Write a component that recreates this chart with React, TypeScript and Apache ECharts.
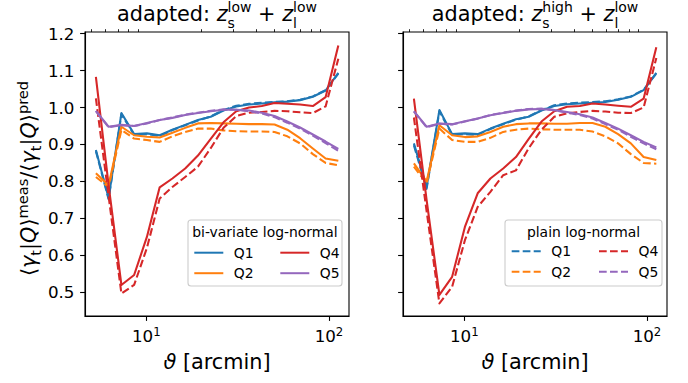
import React, { useEffect, useRef } from 'react';
import * as echarts from 'echarts';

// ---------- data ----------
const THETA = [5.30, 6.22, 7.31, 8.58, 10.08, 11.84, 13.90, 16.33, 19.18, 22.53, 26.46, 31.08, 36.51, 42.88, 50.36, 59.15, 69.47, 81.60, 95.84, 112.5];

const LEFT_Q1_BV = [0.885, 0.755, 0.985, 0.928, 0.930, 0.925, 0.940, 0.953, 0.966, 0.975, 0.992, 1.003, 1.008, 1.011, 1.014, 1.016, 1.020, 1.029, 1.046, 1.094];
const LEFT_Q1_PL = [0.882, 0.752, 0.982, 0.926, 0.928, 0.923, 0.939, 0.952, 0.965, 0.976, 0.993, 1.005, 1.010, 1.013, 1.015, 1.017, 1.021, 1.030, 1.047, 1.092];
const LEFT_Q2_BV = [0.822, 0.790, 0.948, 0.925, 0.921, 0.919, 0.932, 0.945, 0.957, 0.958, 0.957, 0.956, 0.955, 0.955, 0.954, 0.940, 0.917, 0.889, 0.862, 0.856];
const LEFT_Q2_PL = [0.812, 0.785, 0.939, 0.916, 0.912, 0.907, 0.922, 0.934, 0.943, 0.943, 0.938, 0.936, 0.935, 0.935, 0.934, 0.922, 0.903, 0.874, 0.850, 0.844];
const LEFT_Q4_BV = [1.083, 0.790, 0.520, 0.547, 0.650, 0.784, 0.808, 0.835, 0.870, 0.915, 0.960, 0.990, 1.000, 1.004, 1.012, 1.010, 1.008, 1.004, 1.028, 1.168];
const LEFT_Q4_PL = [1.025, 0.760, 0.497, 0.520, 0.620, 0.754, 0.785, 0.812, 0.840, 0.890, 0.945, 0.977, 0.986, 0.988, 0.991, 0.990, 0.987, 0.985, 1.003, 1.132];
const LEFT_Q5_BV = [0.991, 0.948, 0.953, 0.950, 0.958, 0.966, 0.972, 0.980, 0.985, 0.990, 0.994, 0.994, 0.992, 0.986, 0.977, 0.962, 0.946, 0.927, 0.908, 0.888];
const LEFT_Q5_PL = [0.990, 0.947, 0.952, 0.950, 0.957, 0.966, 0.973, 0.981, 0.986, 0.991, 0.995, 0.994, 0.990, 0.984, 0.974, 0.959, 0.943, 0.924, 0.904, 0.883];

const RIGHT_Q1_BV = [0.903, 0.785, 0.993, 0.928, 0.930, 0.928, 0.943, 0.956, 0.968, 0.975, 0.992, 1.004, 1.009, 1.011, 1.013, 1.015, 1.021, 1.029, 1.047, 1.094];
const RIGHT_Q1_PL = [0.898, 0.780, 0.990, 0.926, 0.928, 0.926, 0.942, 0.955, 0.967, 0.976, 0.993, 1.006, 1.011, 1.013, 1.015, 1.017, 1.022, 1.030, 1.048, 1.092];
const RIGHT_Q2_BV = [0.849, 0.800, 0.952, 0.925, 0.920, 0.922, 0.934, 0.948, 0.955, 0.957, 0.957, 0.956, 0.956, 0.958, 0.958, 0.948, 0.928, 0.903, 0.866, 0.858];
const RIGHT_Q2_PL = [0.840, 0.795, 0.943, 0.912, 0.907, 0.907, 0.918, 0.934, 0.940, 0.943, 0.941, 0.940, 0.940, 0.940, 0.935, 0.922, 0.903, 0.874, 0.850, 0.848];
const RIGHT_Q4_BV = [1.024, 0.750, 0.493, 0.542, 0.677, 0.768, 0.808, 0.835, 0.866, 0.915, 0.962, 0.990, 1.002, 1.004, 1.011, 1.008, 1.005, 1.002, 1.024, 1.163];
const RIGHT_Q4_PL = [0.973, 0.720, 0.470, 0.515, 0.641, 0.731, 0.772, 0.817, 0.830, 0.890, 0.940, 0.975, 0.984, 0.988, 0.991, 0.989, 0.986, 0.985, 1.000, 1.134];
const RIGHT_Q5_BV = [0.990, 0.948, 0.957, 0.955, 0.963, 0.970, 0.979, 0.985, 0.991, 0.995, 0.996, 0.993, 0.988, 0.982, 0.973, 0.958, 0.943, 0.925, 0.907, 0.892];
const RIGHT_Q5_PL = [0.989, 0.947, 0.956, 0.954, 0.962, 0.970, 0.980, 0.986, 0.992, 0.996, 0.997, 0.993, 0.986, 0.980, 0.970, 0.955, 0.940, 0.921, 0.903, 0.887];

const QUANTILES = ['Q1', 'Q2', 'Q4', 'Q5'];
const Y_TICKS = [0.5, 0.6, 0.7, 0.8, 0.9, 1.0, 1.1, 1.2];
const X_MAJOR = [10, 100];
const X_MINOR = [5, 6, 7, 8, 9, 20, 30, 40, 50, 60, 70, 80, 90];
const X_RANGE = [4.62, 128.7];
const Y_RANGE = [0.436, 1.2043];
const LEGEND_TITLES = ['bi-variate log-normal', 'plain log-normal'];

// ---------- style ----------
const COLORS = ['#1f77b4', '#ff7f0e', '#d62728', '#9467bd'];
const FONT = 'DejaVu Sans';
const LW = 2.08;
const DASH = [7.7, 3.3];
const GRIDS = [
  { left: 85, top: 32, width: 264, height: 284 },
  { left: 403, top: 32, width: 264, height: 284 },
];

const PANELS = [
  { bv: [LEFT_Q1_BV, LEFT_Q2_BV, LEFT_Q4_BV, LEFT_Q5_BV], pl: [LEFT_Q1_PL, LEFT_Q2_PL, LEFT_Q4_PL, LEFT_Q5_PL] },
  { bv: [RIGHT_Q1_BV, RIGHT_Q2_BV, RIGHT_Q4_BV, RIGHT_Q5_BV], pl: [RIGHT_Q1_PL, RIGHT_Q2_PL, RIGHT_Q4_PL, RIGHT_Q5_PL] },
];

let measureCtx: CanvasRenderingContext2D | null = null;
function measure(text: string, size: number, italic: boolean) {
  if (!measureCtx) measureCtx = document.createElement('canvas').getContext('2d');
  measureCtx!.font = `${italic ? 'italic ' : ''}${size}px "${FONT}"`;
  return measureCtx!.measureText(text).width;
}

type P = { t: string; size: number; it?: boolean; dy?: number };
type Piece = P | { stack: P[] };

const MAIN = 20.8;
const SMALL = 14.6;
const STACK = 14;
const CENTRAL = 0.346; // central baseline offset (em) of DejaVu Sans

function mathGroup(pieces: Piece[], x: number, y: number, rotation: number) {
  const kids: any[] = [];
  let cx = 0;
  const place = (p: P, px: number) => {
    kids.push({
      type: 'text',
      x: px,
      y: (p.dy || 0) - CENTRAL * p.size,
      style: {
        text: p.t, fontSize: p.size, fontFamily: FONT, fontStyle: p.it ? 'italic' : 'normal',
        fill: '#000', align: 'left', verticalAlign: 'middle',
      },
    });
    return measure(p.t, p.size, !!p.it);
  };
  for (const pc of pieces) {
    if ('stack' in pc) {
      let w = 0;
      for (const s of pc.stack) w = Math.max(w, place(s, cx));
      cx += w;
    } else {
      cx += place(pc, cx);
    }
  }
  const half = cx / 2;
  kids.forEach((k) => { k.x -= half; });
  return { type: 'group', x, y, rotation, children: kids, silent: true };
}

function titlePieces(sSup: string): Piece[] {
  return [
    { t: 'adapted: ', size: MAIN },
    { t: 'z', size: MAIN, it: true },
    { stack: [{ t: sSup, size: STACK, dy: -9 }, { t: 's', size: STACK, dy: 7.4 }] },
    { t: ' + ', size: MAIN },
    { t: 'z', size: MAIN, it: true },
    { stack: [{ t: 'low', size: STACK, dy: -9 }, { t: 'l', size: STACK, dy: 7.4 }] },
  ];
}

function ylabelPieces(): Piece[] {
  const part = (sup: string): Piece[] => [
    { t: '\u27E8', size: MAIN },
    { t: '\u03B3', size: MAIN, it: true },
    { t: 't', size: SMALL, dy: 4.5 },
    { t: '|', size: MAIN },
    { t: 'Q', size: MAIN, it: true },
    { t: '\u27E9', size: MAIN },
    { t: sup, size: SMALL, dy: -8.5 },
  ];
  return [...part('meas'), { t: '/', size: MAIN }, ...part('pred')];
}

export default function App() {
  const ref = useRef<HTMLDivElement>(null);
  useEffect(() => {
    if (!ref.current) return;
    const chart = echarts.init(ref.current, undefined, { renderer: 'svg' });

    const xAxis: any[] = [];
    const yAxis: any[] = [];
    const series: any[] = [];
    const legend: any[] = [];
    const graphics: any[] = [];

    GRIDS.forEach((g, gi) => {
      xAxis.push({
        type: 'log', logBase: 10, gridIndex: gi, min: X_RANGE[0], max: X_RANGE[1],
        axisLine: { show: true, lineStyle: { color: '#000', width: 1.1 } },
        axisTick: { show: true, length: 4.9, lineStyle: { color: '#000', width: 1.1 }, customValues: X_MAJOR },
        axisLabel: {
          show: true, customValues: X_MAJOR, margin: 10.2,
          formatter: (v: number) => `{b|10}{s|${Math.round(Math.log10(v))}}`,
          rich: {
            b: { fontSize: 16.7, fontFamily: FONT, color: '#000', lineHeight: 20 },
            s: { fontSize: 11.7, fontFamily: FONT, color: '#000', lineHeight: 12, verticalAlign: 'top' },
          },
        },
        splitLine: { show: false },
        minorTick: { show: false },
      });
      xAxis.push({
        type: 'log', logBase: 10, gridIndex: gi, min: X_RANGE[0], max: X_RANGE[1],
        axisLine: { show: false },
        axisTick: { show: true, length: 2.8, lineStyle: { color: '#000', width: 0.85 }, customValues: X_MINOR },
        axisLabel: { show: false },
        splitLine: { show: false },
      });
      yAxis.push({
        type: 'value', gridIndex: gi, min: Y_RANGE[0], max: Y_RANGE[1],
        axisLine: { show: true, lineStyle: { color: '#000', width: 1.1 } },
        axisTick: { show: true, length: 4.9, lineStyle: { color: '#000', width: 1.1 }, customValues: Y_TICKS },
        axisLabel: {
          show: gi === 0, customValues: Y_TICKS, margin: 10.5,
          fontSize: 16.7, fontFamily: FONT, color: '#000',
          formatter: (v: number) => v.toFixed(1),
        },
        splitLine: { show: false },
      });

      const panel = PANELS[gi];
      QUANTILES.forEach((q, qi) => {
        const mk = (vals: number[], dashed: boolean) => ({
          type: 'line',
          name: dashed ? q + ' ' : q,
          xAxisIndex: gi * 2,
          yAxisIndex: gi,
          data: THETA.map((t, i) => [t, vals[i]]),
          symbol: 'none',
          showSymbol: false,
          silent: true,
          clip: true,
          lineStyle: { color: COLORS[qi], width: LW, type: dashed ? DASH : 'solid', cap: 'butt', join: 'round' },
          itemStyle: { color: COLORS[qi] },
          emphasis: { disabled: true },
          z: 2,
        });
        series.push(mk(panel.bv[qi], false));
        series.push(mk(panel.pl[qi], true));
      });

      // legends
      const dashed = gi === 1;
      const suffix = dashed ? ' ' : '';
      const colLeft = gi === 0 ? [193.3, 279.3] : [510.7, 598];
      const top = gi === 0 ? 245.7 : 244.3;
      [[QUANTILES[0], QUANTILES[1]], [QUANTILES[2], QUANTILES[3]]].forEach((pair, ci) => {
        legend.push({
          data: pair.map((n) => n + suffix),
          orient: 'vertical',
          left: colLeft[ci],
          top,
          padding: 0,
          itemWidth: 29,
          itemHeight: 14,
          itemGap: 6.5,
          selectedMode: false,
          z: 5,
          itemStyle: { opacity: 0 },
          lineStyle: { opacity: 1 },
          formatter: (name: string) => name.trim(),
          textStyle: { fontSize: 13.9, fontFamily: FONT, color: '#000', lineHeight: 14, padding: [0, 0, 0, 5.5] },
        });
      });

      const box = gi === 0 ? { x: 188, y: 220, w: 154, h: 66 } : { x: 505, y: 220, w: 157, h: 66 };
      graphics.push({
        type: 'rect', z: 3, silent: true,
        shape: { x: box.x, y: box.y, width: box.w, height: box.h, r: 3 },
        style: { fill: 'rgba(255,255,255,0.8)', stroke: '#cccccc', lineWidth: 1.1 },
      });
      graphics.push({
        type: 'text', z: 6, silent: true,
        x: box.x + box.w / 2, y: 231.7,
        style: { text: LEGEND_TITLES[gi], fontSize: 13.9, fontFamily: FONT, fill: '#000', align: 'center', verticalAlign: 'middle' },
      });

      const cx = g.left + g.width / 2;
      graphics.push(mathGroup(titlePieces(gi === 0 ? 'low' : 'high'), cx, 20.7, 0));
      graphics.push(mathGroup([{ t: '\u03D1', size: MAIN, it: true }, { t: ' [arcmin]', size: MAIN }], cx, 369, 0));
    });

    graphics.push(mathGroup(ylabelPieces(), 36.5, 178.5, Math.PI / 2));

    chart.setOption({
      animation: false,
      backgroundColor: '#ffffff',
      grid: GRIDS.map((g) => ({ ...g, show: true, borderColor: '#000', borderWidth: 1.1, backgroundColor: 'transparent' })),
      xAxis,
      yAxis,
      series,
      legend,
      graphic: { elements: graphics },
    });
    return () => chart.dispose();
  }, []);
  return <div ref={ref} style={{ position: 'fixed', left: 0, top: 0, width: 688, height: 383 }} />;
}
